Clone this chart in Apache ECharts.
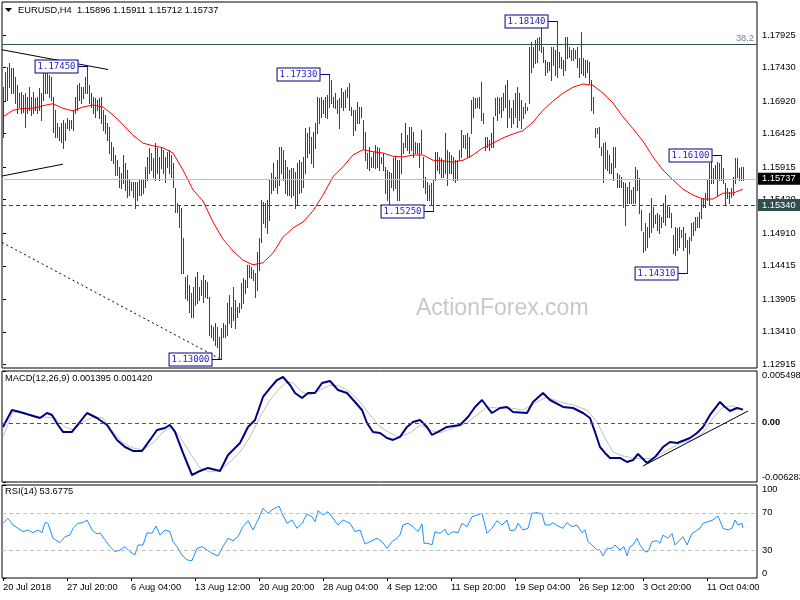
<!DOCTYPE html>
<html><head><meta charset="utf-8">
<script src="https://cdn.jsdelivr.net/npm/echarts@6/dist/echarts.min.js"></script>
<style>html,body{margin:0;padding:0;background:#fff}#c{width:800px;height:600px}</style>
</head><body><div id="c"></div><script>
// ---------- data ----------
const symbolName = 'EURUSD,H4';
const lastOHLC = [1.15896, 1.15911, 1.15712, 1.15737];
const macdTitleVals = [0.001395, 0.001420];
const rsiTitleVal = 53.6775;
const xTickIdx = [0, 32, 64, 96, 128, 160, 192, 224, 256, 288, 320, 352];
const xTickLabels = ['20 Jul 2018','27 Jul 20:00','6 Aug 04:00','13 Aug 12:00','20 Aug 20:00','28 Aug 04:00','4 Sep 12:00','11 Sep 20:00','19 Sep 04:00','26 Sep 12:00','3 Oct 20:00','11 Oct 04:00'];
const priceTicks = [1.12915,1.13410,1.13905,1.14415,1.14910,1.15420,1.15915,1.16425,1.16920,1.17430,1.17925];
const macdTicks = [-0.006283, 0, 0.005498];
const rsiTicks = [0, 30, 70, 100];

const highs = [
1.1713,1.1736,1.1744,1.1750,1.1742,1.1742,1.1729,1.1716,1.1704,1.1706,
1.1701,1.1704,1.1698,1.1713,1.1698,1.1706,1.1697,1.1698,1.1712,1.1704,
1.1739,1.1742,1.1739,1.1732,1.1729,1.1698,1.1678,1.1659,1.1653,1.1659,
1.1663,1.1659,1.1666,1.1663,1.1663,1.1678,1.1698,1.1716,1.1719,1.1713,
1.1713,1.1729,1.1745,1.1716,1.1704,1.1698,1.1697,1.1694,1.1697,1.1698,
1.1678,1.1671,1.1659,1.1653,1.1630,1.1622,1.1610,1.1602,1.1592,1.1583,
1.1610,1.1598,1.1587,1.1572,1.1569,1.1569,1.1569,1.1569,1.1572,1.1572,
1.1572,1.1592,1.1607,1.1621,1.1613,1.1605,1.1628,1.1621,1.1607,1.1621,
1.1618,1.1607,1.1615,1.1618,1.1610,1.1598,1.1560,1.1537,1.1534,1.1529,
1.1484,1.1424,1.1427,1.1412,1.1400,1.1409,1.1424,1.1432,1.1409,1.1420,
1.1427,1.1420,1.1417,1.1394,1.1351,1.1348,1.1354,1.1348,1.1333,1.1347,
1.1354,1.1351,1.1385,1.1397,1.1379,1.1409,1.1389,1.1379,1.1385,1.1415,
1.1423,1.1420,1.1443,1.1443,1.1440,1.1435,1.1431,1.1462,1.1484,1.1542,
1.1538,1.1537,1.1542,1.1572,1.1583,1.1598,1.1577,1.1602,1.1622,1.1622,
1.1618,1.1602,1.1592,1.1587,1.1590,1.1590,1.1584,1.1598,1.1602,1.1599,
1.1607,1.1651,1.1643,1.1653,1.1637,1.1645,1.1659,1.1698,1.1697,1.1698,
1.1694,1.1698,1.1701,1.1733,1.1724,1.1698,1.1704,1.1694,1.1697,1.1712,
1.1706,1.1709,1.1713,1.1719,1.1683,1.1678,1.1678,1.1691,1.1683,1.1683,
1.1663,1.1645,1.1613,1.1622,1.1607,1.1615,1.1625,1.1622,1.1621,1.1607,
1.1613,1.1592,1.1587,1.1584,1.1583,1.1605,1.1607,1.1602,1.1602,1.1643,
1.1628,1.1659,1.1640,1.1653,1.1653,1.1645,1.1630,1.1628,1.1628,1.1648,
1.1607,1.1577,1.1569,1.1564,1.1567,1.1572,1.1615,1.1615,1.1607,1.1605,
1.1602,1.1643,1.1618,1.1615,1.1610,1.1607,1.1602,1.1602,1.1618,1.1648,
1.1640,1.1640,1.1643,1.1637,1.1694,1.1698,1.1697,1.1697,1.1698,1.1721,
1.1674,1.1637,1.1637,1.1633,1.1643,1.1668,1.1697,1.1698,1.1697,1.1698,
1.1704,1.1716,1.1724,1.1694,1.1681,1.1694,1.1704,1.1713,1.1704,1.1694,
1.1683,1.1689,1.1683,1.1774,1.1782,1.1774,1.1785,1.1788,1.1789,1.1803,
1.1774,1.1754,1.1751,1.1751,1.1774,1.1774,1.1770,1.1814,1.1767,1.1759,
1.1754,1.1789,1.1789,1.1774,1.1770,1.1773,1.1770,1.1774,1.1757,1.1797,
1.1757,1.1754,1.1754,1.1751,1.1724,1.1698,1.1651,1.1651,1.1653,1.1622,
1.1628,1.1630,1.1618,1.1610,1.1598,1.1622,1.1622,1.1583,1.1580,1.1577,
1.1569,1.1567,1.1561,1.1569,1.1557,1.1561,1.1592,1.1587,1.1575,1.1526,
1.1493,1.1507,1.1501,1.1522,1.1545,1.1531,1.1519,1.1522,1.1519,1.1516,
1.1537,1.1549,1.1534,1.1531,1.1522,1.1488,1.1501,1.1499,1.1501,1.1496,
1.1501,1.1491,1.1481,1.1485,1.1507,1.1508,1.1516,1.1516,1.1523,1.1545,
1.1545,1.1552,1.1572,1.1598,1.1602,1.1590,1.1595,1.1599,1.1598,1.1610,
1.1590,1.1567,1.1560,1.1554,1.1560,1.1577,1.1605,1.1605,1.1590,1.1592,1.15911
];
const lows = [
1.1637,1.1694,1.1694,1.1713,1.1704,1.1704,1.1689,1.1674,1.1683,1.1674,
1.1675,1.1653,1.1674,1.1678,1.1671,1.1674,1.1678,1.1674,1.1678,1.1663,
1.1694,1.1704,1.1704,1.1698,1.1694,1.1645,1.1637,1.1637,1.1633,1.1630,
1.1621,1.1633,1.1651,1.1648,1.1651,1.1648,1.1674,1.1678,1.1694,1.1689,
1.1697,1.1704,1.1704,1.1689,1.1683,1.1674,1.1668,1.1678,1.1666,1.1659,
1.1648,1.1643,1.1633,1.1613,1.1602,1.1598,1.1580,1.1580,1.1561,1.1560,
1.1567,1.1557,1.1546,1.1549,1.1557,1.1546,1.1529,1.1542,1.1549,1.1549,
1.1552,1.1561,1.1572,1.1583,1.1587,1.1577,1.1572,1.1583,1.1572,1.1590,
1.1583,1.1569,1.1592,1.1583,1.1577,1.1561,1.1523,1.1523,1.1501,1.1431,
1.1431,1.1392,1.1389,1.1371,1.1364,1.1364,1.1382,1.1385,1.1389,1.1397,
1.1386,1.1394,1.1392,1.1336,1.1333,1.1329,1.1321,1.1318,1.1303,1.1300,
1.1333,1.1333,1.1336,1.1354,1.1348,1.1359,1.1347,1.1364,1.1371,1.1377,
1.1385,1.1400,1.1409,1.1424,1.1423,1.1420,1.1394,1.1405,1.1435,1.1478,
1.1507,1.1501,1.1491,1.1511,1.1552,1.1557,1.1561,1.1552,1.1564,1.1583,
1.1572,1.1552,1.1549,1.1549,1.1546,1.1549,1.1529,1.1534,1.1552,1.1554,
1.1561,1.1583,1.1607,1.1613,1.1598,1.1592,1.1621,1.1643,1.1659,1.1668,
1.1674,1.1668,1.1666,1.1683,1.1689,1.1683,1.1681,1.1674,1.1651,1.1683,
1.1678,1.1683,1.1698,1.1678,1.1671,1.1640,1.1648,1.1659,1.1659,1.1668,
1.1621,1.1602,1.1590,1.1587,1.1592,1.1592,1.1590,1.1592,1.1587,1.1598,
1.1587,1.1552,1.1542,1.1529,1.1561,1.1557,1.1560,1.1542,1.1542,1.1583,
1.1613,1.1622,1.1618,1.1613,1.1618,1.1607,1.1613,1.1613,1.1592,1.1613,
1.1561,1.1552,1.1542,1.1542,1.1534,1.1525,1.1572,1.1587,1.1583,1.1577,
1.1577,1.1583,1.1564,1.1583,1.1583,1.1572,1.1569,1.1572,1.1602,1.1607,
1.1622,1.1621,1.1607,1.1607,1.1643,1.1668,1.1681,1.1683,1.1681,1.1663,
1.1659,1.1618,1.1622,1.1618,1.1622,1.1622,1.1671,1.1663,1.1674,1.1668,
1.1678,1.1683,1.1653,1.1668,1.1653,1.1659,1.1668,1.1653,1.1663,1.1651,
1.1666,1.1674,1.1678,1.1689,1.1736,1.1744,1.1750,1.1751,1.1770,1.1767,
1.1751,1.1732,1.1736,1.1739,1.1724,1.1747,1.1732,1.1729,1.1744,1.1742,
1.1732,1.1739,1.1757,1.1759,1.1754,1.1754,1.1757,1.1744,1.1729,1.1735,
1.1732,1.1729,1.1736,1.1719,1.1678,1.1674,1.1637,1.1643,1.1622,1.1610,
1.1569,1.1590,1.1587,1.1583,1.1583,1.1572,1.1592,1.1561,1.1561,1.1561,
1.1531,1.1504,1.1537,1.1537,1.1537,1.1537,1.1537,1.1557,1.1522,1.1496,
1.1462,1.1466,1.1470,1.1485,1.1493,1.1501,1.1507,1.1496,1.1491,1.1501,
1.1508,1.1504,1.1516,1.1516,1.1501,1.1461,1.1458,1.1466,1.1470,1.1485,
1.1466,1.1470,1.1431,1.1461,1.1481,1.1488,1.1496,1.1501,1.1501,1.1514,
1.1531,1.1531,1.1542,1.1534,1.1567,1.1567,1.1575,1.1549,1.1572,1.1572,
1.1567,1.1534,1.1545,1.1537,1.1546,1.1549,1.1567,1.1577,1.1572,1.1572,1.15712
];

const maLine = [[0,1.1668],[5,1.1678],[10,1.1681],[15,1.1681],[20,1.1685],[25,1.1688],[30,1.1681],[35,1.1677],[40,1.1683],[45,1.1686],[50,1.1683],[55,1.1671],[60,1.1656],[65,1.1640],[70,1.1628],[75,1.1624],[80,1.1621],[85,1.1613],[90,1.1587],[95,1.1557],[100,1.1540],[105,1.1508],[110,1.1482],[115,1.1464],[120,1.1450],[125,1.1443],[130,1.1446],[135,1.1461],[140,1.1485],[145,1.1499],[150,1.1508],[155,1.1525],[160,1.1549],[165,1.1577],[170,1.1592],[175,1.1610],[180,1.1618],[185,1.1615],[190,1.1613],[195,1.1608],[200,1.1607],[205,1.1610],[210,1.1610],[215,1.1602],[220,1.1601],[225,1.1599],[230,1.1602],[235,1.1610],[240,1.1621],[245,1.1628],[250,1.1636],[255,1.1642],[260,1.1647],[265,1.1660],[270,1.1678],[275,1.1692],[280,1.1704],[285,1.1713],[290,1.1718],[295,1.1716],[300,1.1704],[305,1.1689],[310,1.1668],[315,1.1650],[320,1.1631],[325,1.1607],[330,1.1587],[335,1.1572],[340,1.1558],[345,1.1549],[350,1.1543],[355,1.1543],[360,1.1552],[365,1.1552],[370,1.1558]];

const macdLine = [[0,-0.00044],[4.5,0.00136],[8.5,0.00115],[13.5,0.00083],[18.5,0.00051],[22,0.00104],[24.5,0.00083],[27.5,-0.00023],[30,-0.00097],[34.5,-0.00097],[38.5,0.00009],[42,0.00104],[47,0.00051],[52,-0.00023],[57,-0.00182],[61,-0.00257],[65,-0.00299],[69.5,-0.00299],[73.5,-0.00182],[77,-0.00076],[81,-0.00055],[83.5,-0.00023],[86,-0.00097],[90,-0.00320],[94.5,-0.00554],[98.5,-0.00511],[102.5,-0.00479],[108.5,-0.00511],[112.5,-0.00341],[118.5,-0.00214],[122.5,-0.00044],[126,0.00030],[130,0.00274],[133.5,0.00369],[137,0.00454],[140,0.00486],[143.5,0.00401],[146,0.00316],[149.5,0.00263],[152.5,0.00316],[156,0.00316],[159.5,0.00423],[163.5,0.00444],[167.5,0.00348],[172,0.00316],[176,0.00221],[179.5,0.00136],[182,-0.00002],[185,-0.00097],[188.5,-0.00108],[192,-0.00161],[195,-0.00182],[198.5,-0.00150],[202,-0.00044],[205,0.00009],[208.5,0.00030],[212,-0.00044],[214.5,-0.00129],[217.5,-0.00097],[222,-0.00044],[228.5,-0.00023],[232.5,0.00062],[236,0.00168],[239.5,0.00242],[242.5,0.00157],[244.5,0.00104],[248.5,0.00157],[252,0.00168],[255,0.00115],[262,0.00104],[265,0.00221],[270,0.00316],[273.5,0.00242],[280,0.00168],[285,0.00157],[290,0.00104],[293.5,0.00051],[296,-0.00097],[298.5,-0.00257],[301,-0.00320],[303.5,-0.00373],[308.5,-0.00373],[312,-0.00416],[315,-0.00395],[317.5,-0.00331],[322,-0.00426],[326,-0.00363],[330,-0.00257],[333.5,-0.00204],[337,-0.00214],[341,-0.00182],[343.5,-0.00161],[347,-0.00108],[350,-0.00044],[353.5,0.00083],[358.5,0.00221],[361,0.00168],[363.5,0.00125],[367,0.00157],[370,0.001395]];

const signalLine = [[0,-0.00150],[5,0.00115],[10,0.00104],[15,0.00062],[20,0.00062],[26,0.00051],[31,-0.00044],[35,-0.00076],[40,0.00009],[45,0.00062],[50,0.00051],[55,-0.00097],[60,-0.00214],[65,-0.00267],[70,-0.00288],[75,-0.00214],[80,-0.00097],[84.5,-0.00044],[88.5,-0.00150],[93.5,-0.00320],[98.5,-0.00479],[103.5,-0.00522],[108.5,-0.00501],[113.5,-0.00416],[118.5,-0.00310],[123.5,-0.00150],[128.5,0.00062],[133.5,0.00242],[138.5,0.00369],[142,0.00433],[145,0.00423],[149.5,0.00327],[153.5,0.00295],[158.5,0.00348],[163.5,0.00401],[168.5,0.00391],[173.5,0.00327],[178.5,0.00221],[183.5,0.00083],[188.5,-0.00044],[193.5,-0.00108],[198,-0.00150],[203.5,-0.00108],[208.5,-0.00023],[213.5,-0.00076],[218.5,-0.00108],[225,-0.00055],[232,-0.00002],[237,0.00083],[242,0.00168],[247,0.00157],[253.5,0.00157],[260,0.00136],[267,0.00221],[272,0.00274],[278.5,0.00221],[285,0.00189],[292,0.00136],[297,0.00009],[301,-0.00161],[305,-0.00310],[310,-0.00352],[315,-0.00373],[320,-0.00384],[325,-0.00373],[330,-0.00320],[335,-0.00257],[340,-0.00204],[345,-0.00182],[350,-0.00108],[355,0.00051],[360,0.00168],[365,0.00179],[370,0.00142]];

const rsiLine = [[0,58.8],[2.5,64.2],[5,57],[7.5,53.4],[10,49.8],[12.5,51.6],[15,48.7],[17.5,51.6],[19.5,48.7],[21,59.5],[22.5,58.8],[25,42.7],[28.5,38],[31,44.4],[33.5,46.2],[35,53.4],[37.5,58.8],[40,59.5],[42,62.4],[44.5,51.6],[47,47.3],[48.5,48.7],[51,40.9],[53.5,33.7],[56,28.3],[58.5,30.1],[61,33.7],[63.5,28.3],[66,24.7],[67.5,35.5],[70,35.5],[72,48.7],[74.5,48],[76.5,55.9],[78.5,46.2],[81,51.6],[83.5,49.8],[85,39.1],[87,33.7],[89.5,24.7],[92,19.4],[94.5,18.6],[97,31.9],[99.5,33.7],[102,30.1],[104.5,26.6],[107.5,23.7],[110,33.7],[112.5,42.7],[115,40.1],[117.5,44.4],[120,55.2],[122.5,61.6],[125,51.6],[127.5,62.4],[130,74.9],[132.5,69.6],[135,73.9],[138,77.4],[139.5,69.6],[142,58.8],[144.5,62.4],[147,53.4],[149.5,58.8],[152,68.8],[154.5,65.9],[156,60.5],[157.5,72.4],[160,67.7],[162.5,71.3],[165,64.2],[167.5,57],[170,62.4],[173.5,58.8],[176,49.8],[178.5,51.6],[181,36.6],[183.5,39.1],[187,42.7],[189.5,39.1],[192,31.9],[194.5,39.1],[197,42.7],[198.5,46.2],[200,57],[202.5,58.8],[205,55.2],[207.5,49.8],[209.5,58.1],[210.5,37.3],[212.5,37.3],[214.5,35.5],[216,49.8],[218.5,48],[221,52.4],[222.5,46.2],[225,49.8],[227.5,48.7],[229.5,58.8],[232,55.2],[234.5,65.9],[237,67.7],[239.5,69.6],[242,48],[244.5,53.4],[247,61.6],[249.5,57],[252,62.4],[253.5,50.9],[256,51.6],[257.5,58.8],[260,51.6],[262.5,53.4],[264.5,69.6],[267,70.3],[269.5,68.8],[271,57],[273.5,57],[275,59.5],[277.5,55.9],[280,53.4],[282,59.5],[284.5,55.2],[287,57],[289.5,48.7],[291,51.6],[292.5,39.1],[294.5,35.5],[297,30.1],[298.5,30.1],[300,23.7],[302,31.9],[304.5,31.9],[306,35.5],[308.5,30.1],[310.5,33.7],[312,23.7],[313.5,33.7],[315,35.5],[317,42.7],[318.5,35.5],[321,28.3],[322.5,28.3],[324.5,39.1],[327,40.1],[328.5,37.3],[330,46.2],[332.5,42.7],[334.5,48],[336,35.5],[338.5,40.9],[340,44.4],[342,35.5],[344.5,48],[346,49.8],[348.5,53.4],[350,58.8],[352.5,60.5],[355,62.4],[357.5,66.7],[360,53.4],[362.5,51.6],[364.5,53.4],[366,62.4],[367.5,57],[369.5,58.8],[370,53.7]];

const labelBars = [42, 163, 277, 109, 215, 342, 359];
const labelPrices = [1.17450, 1.17330, 1.18140, 1.13000, 1.15250, 1.14310, 1.16100];
const fibLevel = 1.1779;
const fibText = '38.2';
const supportLevel = 1.1534;
const trendUpper = [[-0.5, 1.1770], [52.5, 1.1740]];
const trendLower = [[-0.5, 1.1578], [30, 1.1596]];
const trendDashed = [[-0.5, 1.1477], [108.5, 1.1300]];
const macdTrend = [[320, -0.00458], [372.5, 0.00125]];

// ---------- chart ----------
const FONT = 'Liberation Sans';
const FS = 9.3;
const barColor = '#1f4a66';
const chart = echarts.init(document.getElementById('c'), null, {renderer: 'canvas'});

function seg(pts, style) {
  return [{coord: pts[0], lineStyle: style}, {coord: pts[1]}];
}
const baseGrid = {left: 2, width: 755, show: true, borderColor: '#000', borderWidth: 1, backgroundColor: 'transparent', containLabel: false, outerBoundsMode: 'none'};
function xAx(idx, visible) {
  return {
    type: 'value', gridIndex: idx, min: -0.5, max: 377, show: visible,
    axisLine: {show: false}, splitLine: {show: false},
    axisTick: {show: visible, length: 3, customValues: xTickIdx, lineStyle: {color: '#000'}},
    axisLabel: {show: visible, customValues: xTickIdx, align: 'left', margin: 5, color: '#000', fontFamily: FONT, fontSize: FS,
      formatter: v => { const k = xTickIdx.indexOf(Math.round(v)); return k >= 0 ? xTickLabels[k] : ''; }}
  };
}
function yAx(idx, min, max, ticks, fmt, extraLabel) {
  return {
    type: 'value', gridIndex: idx, position: 'right', min: min, max: max,
    axisLine: {show: false}, splitLine: {show: false},
    axisTick: {show: true, length: 3, customValues: ticks, lineStyle: {color: '#000'}},
    axisLabel: Object.assign({customValues: ticks, margin: 5, color: '#000', fontFamily: FONT, fontSize: FS, formatter: fmt}, extraLabel || {})
  };
}
const mlBase = {silent: true, symbol: ['none', 'none'], animation: false, precision: 8, label: {show: false}};

const option = {
  animation: false,
  backgroundColor: '#fff',
  grid: [
    Object.assign({top: 2, height: 366}, baseGrid),
    Object.assign({top: 371, height: 111}, baseGrid),
    Object.assign({top: 485, height: 93}, baseGrid)
  ],
  xAxis: [xAx(0, false), xAx(1, false), xAx(2, true)],
  yAxis: [
    yAx(0, 1.1286, 1.18427, priceTicks, v => v.toFixed(5)),
    yAx(1, macdTicks[0], macdTicks[2], macdTicks, v => (Math.abs(v) < 1e-12 ? '{b|0.00}' : v.toFixed(6)),
      {verticalAlignMinLabel: 'bottom', verticalAlignMaxLabel: 'top', rich: {b: {fontWeight: 'bold', fontFamily: FONT, fontSize: FS, color: '#000'}}}),
    yAx(2, 0, 100, rsiTicks, v => String(Math.round(v)), {verticalAlignMinLabel: 'bottom', verticalAlignMaxLabel: 'top'})
  ],
  graphic: [
    {type: 'polygon', shape: {points: [[5, 8], [12, 8], [8.5, 12]]}, style: {fill: '#000'}},
    {type: 'text', x: 18, y: 10, style: {text: symbolName + '  ' + lastOHLC.map(v => v.toFixed(5)).join(' '), font: FS + 'px "' + FONT + '"', fill: '#000', verticalAlign: 'middle'}},
    {type: 'text', x: 5, y: 378, style: {text: 'MACD(12,26,9) ' + macdTitleVals.map(v => v.toFixed(6)).join(' '), font: FS + 'px "' + FONT + '"', fill: '#000', verticalAlign: 'middle'}},
    {type: 'text', x: 5, y: 491, style: {text: 'RSI(14) ' + rsiTitleVal.toFixed(4), font: FS + 'px "' + FONT + '"', fill: '#000', verticalAlign: 'middle'}},
    {type: 'text', x: 416, y: 309, z: -1, style: {text: 'ActionForex.com', font: '23px "Liberation Sans"', fill: '#c8c8c8', verticalAlign: 'middle'}}
  ],
  series: [
    {
      type: 'custom', name: 'bars', xAxisIndex: 0, yAxisIndex: 0, silent: true, z: 3,
      data: highs.map((h, i) => [i, h, lows[i]]),
      encode: {x: 0, y: [1, 2]},
      renderItem: (params, api) => {
        const t = api.coord([api.value(0), api.value(1)]);
        const b = api.coord([api.value(0), api.value(2)]);
        const x = Math.round(t[0]) + 0.5;
        return {type: 'line', shape: {x1: x, y1: Math.round(t[1]), x2: x, y2: Math.round(b[1]) + 1}, style: {stroke: barColor, lineWidth: 1}};
      }
    },
    {
      type: 'line', name: 'MA', xAxisIndex: 0, yAxisIndex: 0, data: maLine, symbol: 'none', silent: true, z: 4,
      lineStyle: {color: '#ff0000', width: 1},
      markLine: Object.assign({}, mlBase, {
        data: [
          seg(trendUpper, {color: '#000', width: 1, type: 'solid'}),
          seg(trendLower, {color: '#000', width: 1, type: 'solid'}),
          seg(trendDashed, {color: '#000', width: 1, type: [2, 3]}),
          {yAxis: fibLevel, lineStyle: {color: '#2f4f4f', width: 1, type: 'solid'},
            label: {show: true, position: 'insideEndTop', formatter: fibText, color: '#708090', fontFamily: FONT, fontSize: FS, distance: [3, 1]}},
          {yAxis: lastOHLC[3], lineStyle: {color: '#c0c0c0', width: 1, type: 'solid'},
            label: {show: true, position: 'end', distance: 1, formatter: lastOHLC[3].toFixed(5), color: '#fff', backgroundColor: '#000', padding: [2, 5, 1, 4], fontFamily: FONT, fontSize: FS}},
          {yAxis: supportLevel, lineStyle: {color: '#2f4f4f', width: 1, type: [4, 3]},
            label: {show: true, position: 'end', distance: 1, formatter: supportLevel.toFixed(5), color: '#fff', backgroundColor: '#2f4f4f', padding: [2, 5, 1, 4], fontFamily: FONT, fontSize: FS}}
        ]
      })
    },
    {
      type: 'custom', name: 'labels', xAxisIndex: 0, yAxisIndex: 0, silent: true, z: 10,
      data: labelBars.map((b, k) => [b, labelPrices[k]]),
      encode: {x: 0, y: 1},
      renderItem: (params, api) => {
        const p = api.coord([api.value(0), api.value(1)]);
        const x = Math.round(p[0]) + 0.5, y = Math.round(p[1]) + 0.5;
        return {type: 'group', children: [
          {type: 'line', shape: {x1: x - 10, y1: y, x2: x, y2: y}, style: {stroke: '#000080', lineWidth: 1}},
          {type: 'text', x: x - 10, y: y, style: {text: api.value(1).toFixed(5), align: 'right', verticalAlign: 'middle',
            font: '9px "DejaVu Sans Mono"', fill: '#2424c8', backgroundColor: '#fff', borderColor: '#000080', borderWidth: 1, padding: [2, 2, 1, 2]}}
        ]};
      }
    },
    {
      type: 'line', name: 'MACD', xAxisIndex: 1, yAxisIndex: 1, data: macdLine, symbol: 'none', silent: true, z: 4,
      lineStyle: {color: '#000080', width: 2},
      markLine: Object.assign({}, mlBase, {
        data: [
          {yAxis: 0, lineStyle: {color: '#555', width: 1, type: [4, 3]}},
          seg(macdTrend, {color: '#000', width: 1, type: 'solid'})
        ]
      })
    },
    {
      type: 'line', name: 'Signal', xAxisIndex: 1, yAxisIndex: 1, data: signalLine, symbol: 'none', silent: true, z: 3,
      lineStyle: {color: '#c0c0c0', width: 1}
    },
    {
      type: 'line', name: 'RSI', xAxisIndex: 2, yAxisIndex: 2, data: rsiLine, symbol: 'none', silent: true, z: 4,
      lineStyle: {color: '#1e90ff', width: 1},
      markLine: Object.assign({}, mlBase, {
        data: [
          {yAxis: 30, lineStyle: {color: '#c0c0c0', width: 1, type: [4, 3]}},
          {yAxis: 70, lineStyle: {color: '#c0c0c0', width: 1, type: [4, 3]}}
        ]
      })
    }
  ]
};
chart.setOption(option);
</script></body></html>
